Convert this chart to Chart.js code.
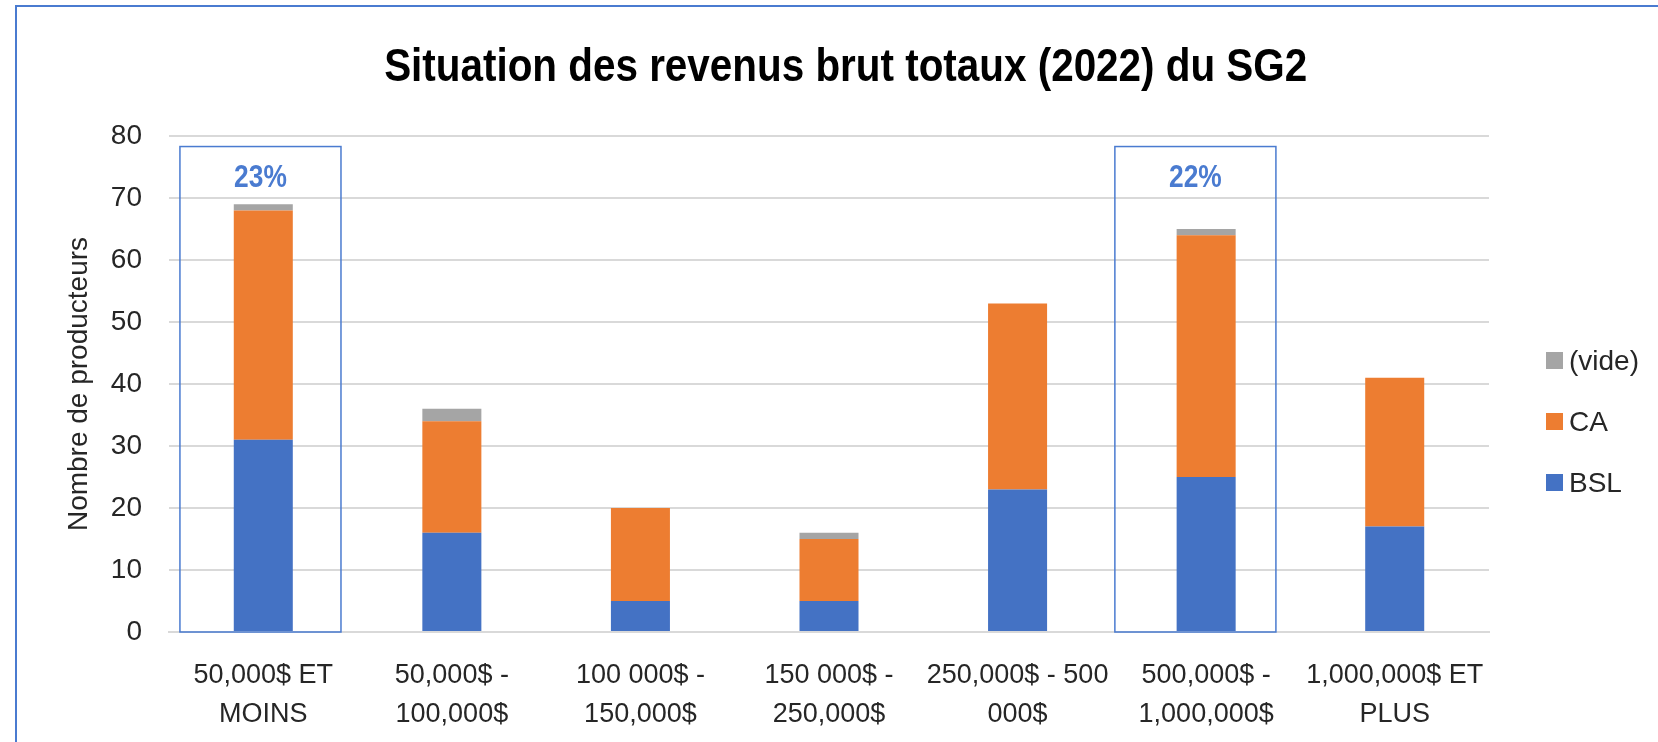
<!DOCTYPE html>
<html>
<head>
<meta charset="utf-8">
<script src="https://cdn.jsdelivr.net/npm/chart.js@4.4.0/dist/chart.umd.min.js"></script>
<style>
  body { margin: 0; background: #fff; }
  #wrap { position: relative; width: 1658px; height: 742px; overflow: hidden; }
  #frame { position: absolute; left: 15px; top: 5px; right: -4px; bottom: -4px;
           border-top: 2px solid #4a7bd0; border-left: 2px solid #4a7bd0; }
  #title { position: absolute; left: 0; top: 37px; width: 1692px; line-height: 56px;
           text-align: center; font: bold 47px 'Liberation Sans', Arial, sans-serif; color: #000;
           white-space: nowrap; }
  #title span { display: inline-block; transform: scaleX(0.86); }
  #legend { position: absolute; left: 1546px; top: 330px;
            font: 28px 'Liberation Sans', Arial, sans-serif; color: #262626; }
  .item { height: 61px; display: flex; align-items: center; }
  .sw { width: 17px; height: 17px; margin-right: 6px; }
  canvas { position: absolute; left: 0; top: 0; }
</style>
</head>
<body>
<div id="wrap">
  <div id="frame"></div>
  <canvas id="chart" width="1658" height="742"></canvas>
  <div id="title"><span>Situation des revenus brut totaux (2022) du SG2</span></div>
  <div id="legend"></div>
</div>
<script>
// categories (multi-line labels as in the original)
var categories = [
    ['50,000$ ET', 'MOINS'],
    ['50,000$ -', '100,000$'],
    ['100 000$ -', '150,000$'],
    ['150 000$ -', '250,000$'],
    ['250,000$ - 500', '000$'],
    ['500,000$ -', '1,000,000$'],
    ['1,000,000$ ET', 'PLUS']
];
var bsl = [31, 16, 5, 5, 23, 25, 17];
var ca = [37, 18, 15, 10, 30, 39, 24];
var vide = [1, 2, 0, 1, 0, 1, 0];

// highlighted categories and their percentage labels
var highlightIndex = [0, 5];
var highlightText = ['23%', '22%'];

var FONT = "'Liberation Sans', Arial, sans-serif";

// boxes around the highlighted bars
var highlightBoxes = {
    id: 'highlightBoxes',
    afterDatasetsDraw: function(chart) {
        var ctx = chart.ctx;
        var x = chart.scales.x, y = chart.scales.y;
        var step = x.getPixelForValue(1) - x.getPixelForValue(0);
        var offsets = [[-0.442, 0.412], [-0.484, 0.37]];
        ctx.save();
        highlightIndex.forEach(function(idx, i) {
            var cx = x.getPixelForValue(idx);
            var left = cx + offsets[i][0] * step;
            var right = cx + offsets[i][1] * step;
            var top = y.getPixelForValue(78.3);
            var bottom = y.getPixelForValue(0);
            ctx.strokeStyle = '#4a7bd0';
            ctx.lineWidth = 1.5;
            ctx.strokeRect(left, top, right - left, bottom - top);
            // narrow bold label
            ctx.save();
            ctx.translate((left + right) / 2, y.getPixelForValue(73.1));
            ctx.scale(0.85, 1);
            ctx.fillStyle = '#4a7bd0';
            ctx.font = 'bold 31px ' + FONT;
            ctx.textAlign = 'center';
            ctx.textBaseline = 'middle';
            ctx.fillText(highlightText[i], 0, 0);
            ctx.restore();
        });
        ctx.restore();
    }
};

var datasets = [
    { label: 'BSL', data: bsl, backgroundColor: '#4472c4' },
    { label: 'CA', data: ca, backgroundColor: '#ed7d31' },
    { label: '(vide)', data: vide, backgroundColor: '#a5a5a5' }
];

var ctx = document.getElementById('chart').getContext('2d');
var chart = new Chart(ctx, {
    type: 'bar',
    data: {
        labels: categories,
        datasets: datasets.map(function(d) {
            return Object.assign({ barPercentage: 0.313, categoryPercentage: 1 }, d);
        })
    },
    options: {
        responsive: false,
        animation: false,
        layout: { padding: { left: 0, right: 0, top: 136, bottom: 0 } },
        plugins: {
            legend: { display: false },
            tooltip: { enabled: false },
            title: { display: false }
        },
        scales: {
            x: {
                stacked: true,
                grid: { display: false, drawTicks: false },
                border: { display: true, color: '#d9d9d9', width: 2 },
                ticks: {
                    color: '#262626',
                    font: { family: FONT, size: 27, lineHeight: 1.41 },
                    padding: 25,
                    maxRotation: 0,
                    autoSkip: false
                },
                afterFit: function(s) { s.height = 110; }
            },
            y: {
                stacked: true,
                min: 0,
                max: 80,
                grid: { color: '#d9d9d9', lineWidth: 2, drawTicks: false },
                border: { display: false },
                ticks: {
                    stepSize: 10,
                    color: '#262626',
                    font: { family: FONT, size: 28 },
                    padding: 27
                },
                title: {
                    display: true,
                    text: 'Nombre de producteurs',
                    color: '#262626',
                    font: { family: FONT, size: 28 },
                    padding: { top: 62, bottom: 0 }
                },
                afterFit: function(s) { s.width = 169; }
            },
            // empty right-hand axis that reserves the legend space
            yRight: {
                position: 'right',
                grid: { display: false },
                border: { display: false },
                ticks: { display: false },
                afterFit: function(s) { s.width = 169; }
            }
        }
    },
    plugins: [highlightBoxes]
});

// legend, listed top to bottom in reverse stacking order
var legend = document.getElementById('legend');
datasets.slice().reverse().forEach(function(d) {
    var row = document.createElement('div');
    row.className = 'item';
    var sw = document.createElement('div');
    sw.className = 'sw';
    sw.style.background = d.backgroundColor;
    var txt = document.createElement('span');
    txt.textContent = d.label;
    row.appendChild(sw);
    row.appendChild(txt);
    legend.appendChild(row);
});
</script>
</body>
</html>
